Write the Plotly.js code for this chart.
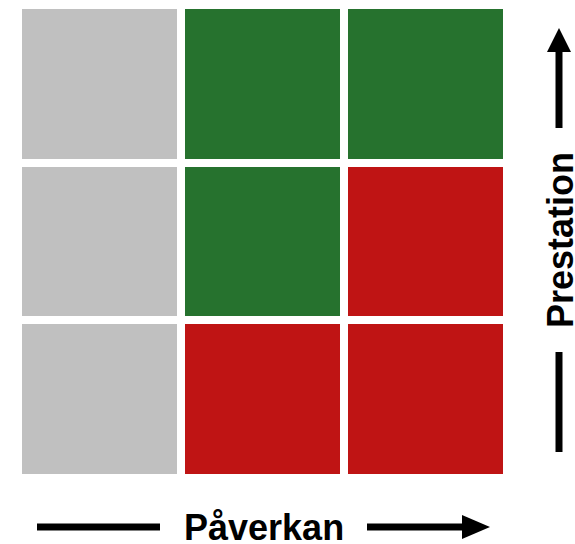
<!DOCTYPE html>
<html>
<head>
<meta charset="utf-8">
<script src="https://cdn.plot.ly/plotly-3.0.1.min.js"></script>
<style>
  html, body { margin: 0; padding: 0; background: #ffffff; }
  #chart { width: 575px; height: 544px; }
</style>
</head>
<body>
<div id="chart"></div>
<script>
// Data
var impactLevels = ['Låg', 'Medel', 'Hög'];          // x (Påverkan)
var performanceLevels = ['Låg', 'Medel', 'Hög'];     // y (Prestation), bottom to top
// 0 = grå, 1 = grön, 2 = röd
var statusLow    = [0, 2, 2];
var statusMedium = [0, 1, 2];
var statusHigh   = [0, 1, 1];
var xAxisLabel = 'Påverkan';
var yAxisLabel = 'Prestation';

var W = 575, H = 544;
var M = {l: 18, r: 68, t: 5, b: 66};
var pw = W - M.l - M.r, ph = H - M.t - M.b;
function px(x) { return (x - M.l) / pw; }
function py(y) { return (H - M.b - y) / ph; }

var trace = {
  type: 'heatmap',
  x: impactLevels,
  y: performanceLevels,
  z: [statusLow, statusMedium, statusHigh],
  zmin: 0, zmax: 2,
  colorscale: [[0, '#c0c0c0'], [0.5, '#26722e'], [1, '#bf1414']],
  showscale: false,
  xgap: 8, ygap: 8,
  hoverinfo: 'skip'
};

var lineW = 7;
var shapes = [
  // bottom arrow
  {type: 'line', xref: 'paper', yref: 'paper', x0: px(37), x1: px(160), y0: py(527), y1: py(527), line: {color: '#000', width: lineW}},
  {type: 'line', xref: 'paper', yref: 'paper', x0: px(367), x1: px(466), y0: py(527), y1: py(527), line: {color: '#000', width: lineW}},
  {type: 'path', xref: 'paper', yref: 'paper',
   path: 'M' + px(462) + ',' + py(515) + ' L' + px(490) + ',' + py(527) + ' L' + px(462) + ',' + py(539) + ' Z',
   fillcolor: '#000', line: {color: '#000', width: 0}},
  // right arrow
  {type: 'line', xref: 'paper', yref: 'paper', x0: px(559), x1: px(559), y0: py(48), y1: py(128), line: {color: '#000', width: lineW}},
  {type: 'line', xref: 'paper', yref: 'paper', x0: px(559), x1: px(559), y0: py(352), y1: py(452), line: {color: '#000', width: lineW}},
  {type: 'path', xref: 'paper', yref: 'paper',
   path: 'M' + px(547) + ',' + py(52) + ' L' + px(559) + ',' + py(28) + ' L' + px(571) + ',' + py(52) + ' Z',
   fillcolor: '#000', line: {color: '#000', width: 0}}
];

var annotations = [
  {text: '<b>' + xAxisLabel + '</b>', xref: 'paper', yref: 'paper', x: px(264), y: py(527),
   xanchor: 'center', yanchor: 'middle', showarrow: false,
   font: {family: 'Liberation Sans, Arial, sans-serif', size: 36, color: '#000'}},
  {text: '<b>' + yAxisLabel + '</b>', xref: 'paper', yref: 'paper', x: px(561), y: py(240),
   xanchor: 'center', yanchor: 'middle', showarrow: false, textangle: -90,
   font: {family: 'Liberation Sans, Arial, sans-serif', size: 36, color: '#000'}}
];

var layout = {
  width: W, height: H,
  margin: M,
  paper_bgcolor: '#ffffff',
  plot_bgcolor: '#ffffff',
  xaxis: {visible: false, showgrid: false, zeroline: false, fixedrange: true},
  yaxis: {visible: false, showgrid: false, zeroline: false, fixedrange: true},
  shapes: shapes,
  annotations: annotations,
  showlegend: false
};

Plotly.newPlot('chart', [trace], layout, {displayModeBar: false, staticPlot: true});
</script>
</body>
</html>
